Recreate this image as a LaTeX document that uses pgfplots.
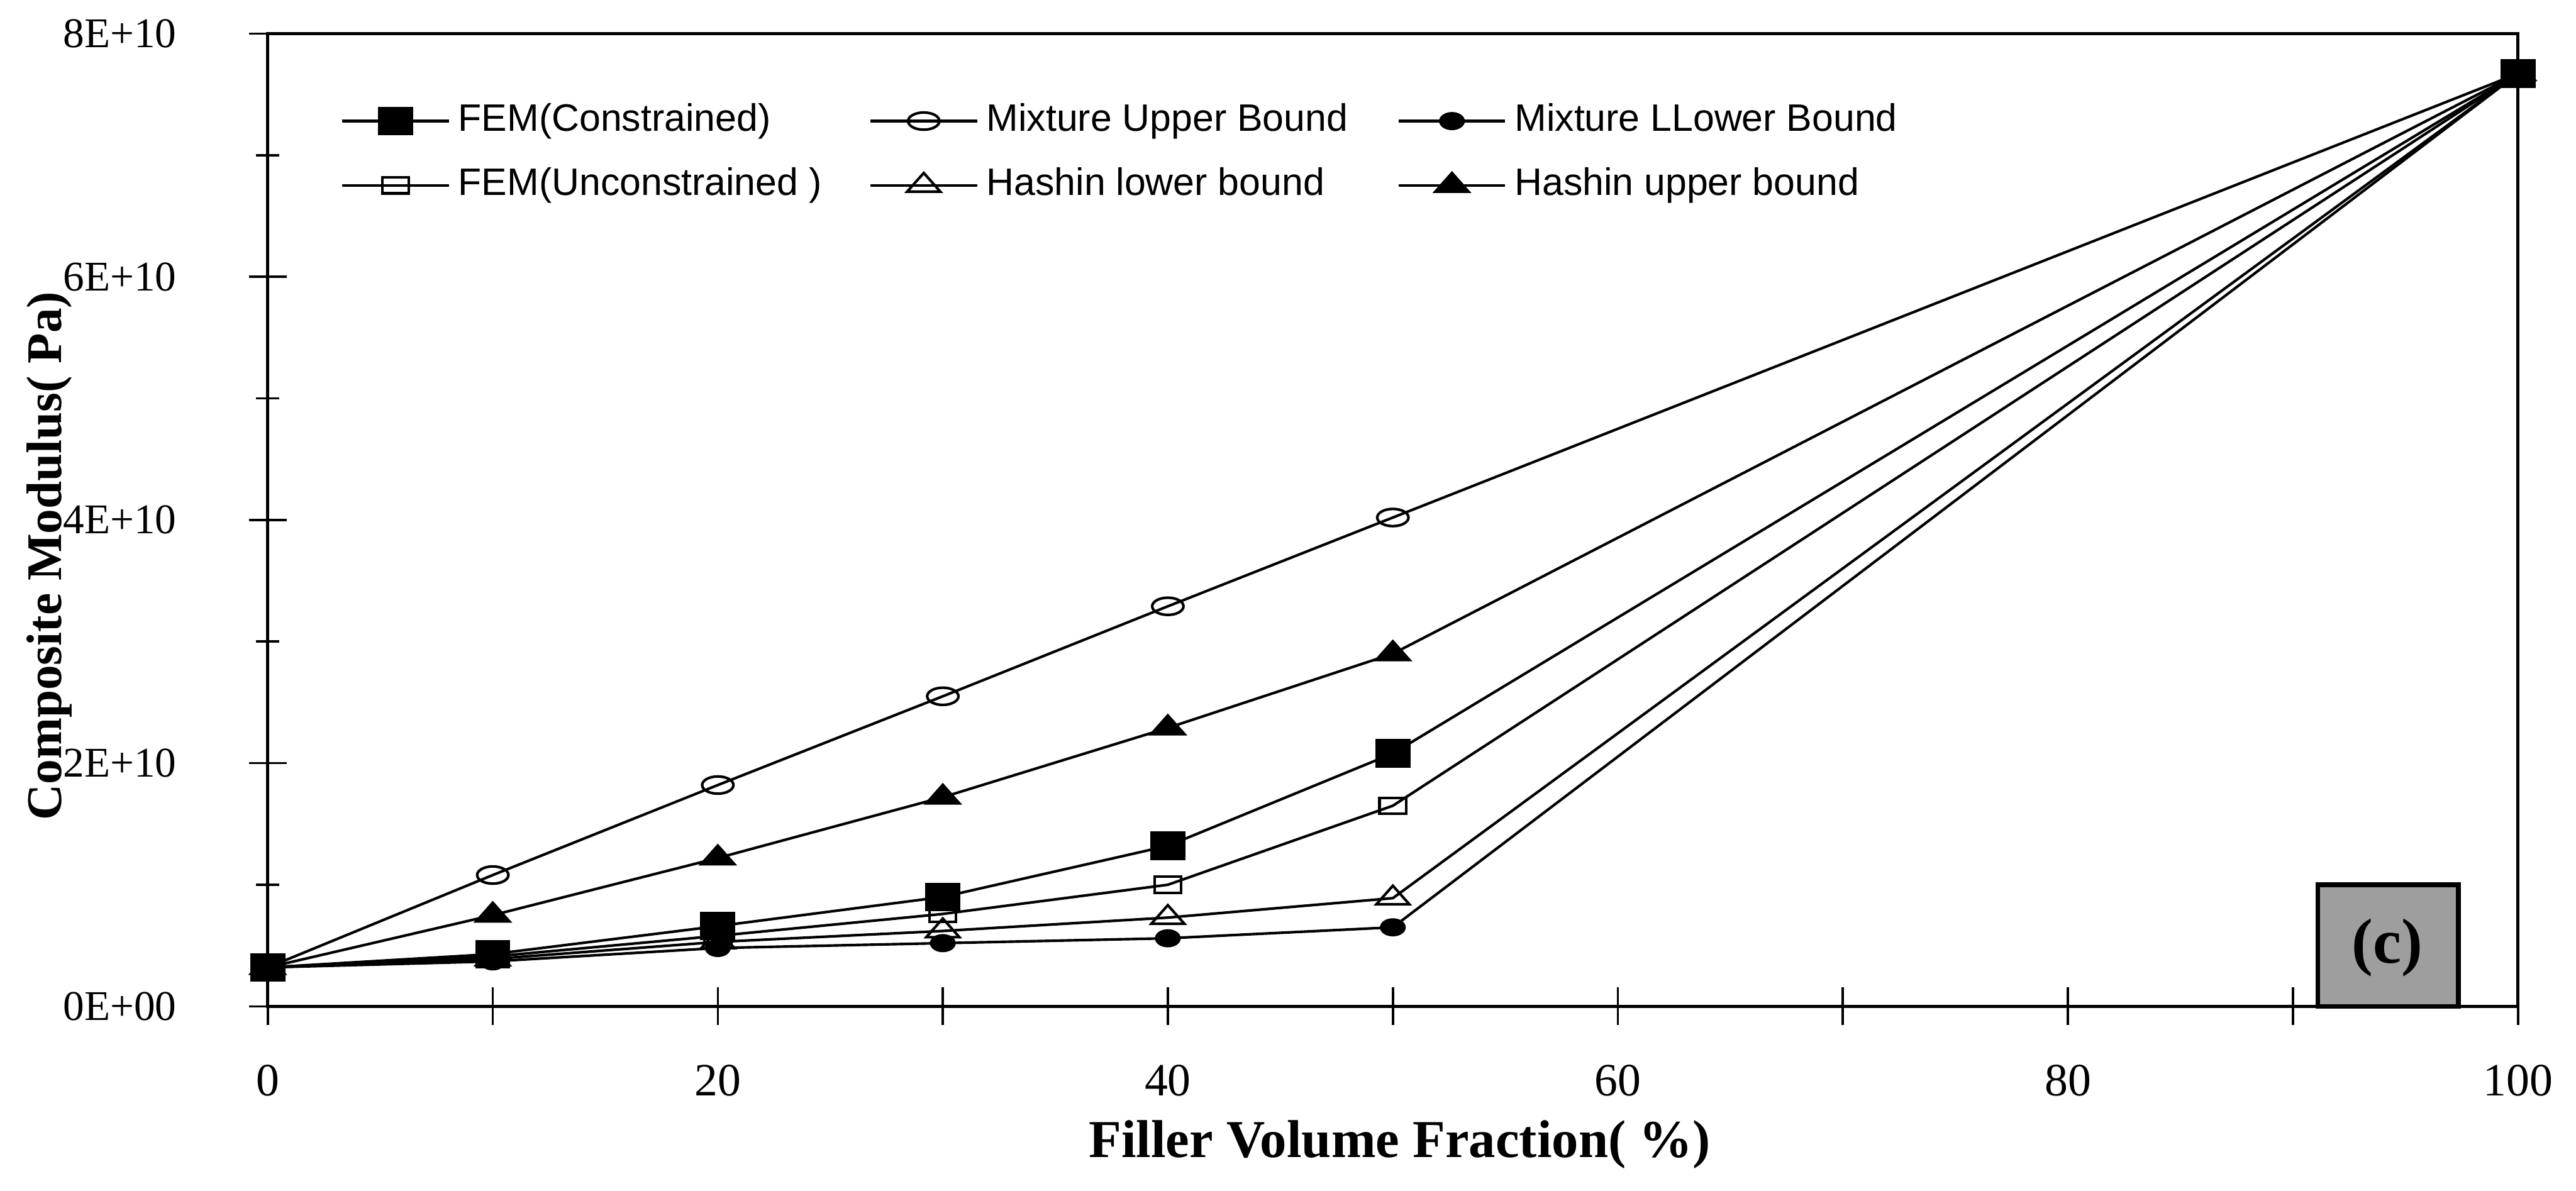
\documentclass[border=0pt]{standalone}
\usepackage{pgfplots}
\pgfplotsset{compat=1.18}
\usepackage{fontspec}
\setmainfont{Liberation Serif}
\newfontfamily\legendfont{Liberation Sans}
\begin{document}
\begin{tikzpicture}
\begin{axis}[
  scale only axis, width=388.3pt, height=167.9pt,
  xmin=0, xmax=100, ymin=0, ymax=8,
  clip=false,
  axis line style={line width=0.5pt},
  tick pos=left,
  tick align=center,
  tick style={black, line width=0.4pt},
  xtick={0,10,20,30,40,50,60,70,80,90,100},
  xticklabels={0,,20,,40,,60,,80,,100},
  ytick={0,2,4,6,8},
  yticklabels={0E+00,2E+10,4E+10,6E+10,8E+10},
  minor ytick={1,3,5,7},
  major tick length=6.5pt, minor tick length=4pt,
  xticklabel style={yshift=-3.3pt, font=\fontsize{8}{10}\selectfont},
  yticklabel style={xshift=-9pt, font=\fontsize{7.3}{9}\selectfont},
  xlabel={\bfseries Filler Volume Fraction( \%)},
  ylabel={\bfseries Composite Modulus( Pa)},
  every axis x label/.style={at={(axis description cs:0.503,-0.142)}, anchor=center, font=\fontsize{9.2}{11}\selectfont},
  every axis y label/.style={at={(axis description cs:-0.097,0.463)}, anchor=center, rotate=90, font=\fontsize{8.6}{10}\selectfont},
  legend columns=3,
  legend cell align=left,
  legend style={draw=none, fill=none, at={(0.032,0.938)}, anchor=north west, inner sep=0pt,
    font=\legendfont\fontsize{6.6}{7}\selectfont,
    /tikz/every even column/.append style={column sep=6.5pt},
    row sep=2.1pt, nodes={inner sep=1.4pt, text height=4.8pt, text depth=1.4pt}},
  legend image code/.code={\draw[mark repeat=2,mark phase=2,#1] plot coordinates {(0pt,0pt)(9.2pt,0pt)(18.4pt,0pt)};},
  every axis plot/.append style={black, line width=0.45pt},
]
\draw[fill=black!38, line width=0.8pt] (axis cs:91.1,0) rectangle (axis cs:97.35,1.0);
\node[font=\bfseries\fontsize{11}{12}\selectfont] at (axis cs:94.2,0.48) {(c)};

% FEM(Constrained)
\addplot[mark=square*, mark size=2.8pt, mark options={fill=black, yscale=0.8}]
  coordinates {(0,0.32)(10,0.43)(20,0.66)(30,0.90)(40,1.32)(50,2.08)(100,7.67)};
\addlegendentry{\makebox[63pt][l]{FEM(Constrained)}}
% Mixture Upper Bound
\addplot[mark=o, mark size=2.7pt, mark options={fill=white, yscale=0.55}]
  coordinates {(0,0.32)(10,1.08)(20,1.82)(30,2.55)(40,3.29)(50,4.02)(100,7.67)};
\addlegendentry{\makebox[63pt][l]{Mixture Upper Bound}}
% Mixture LLower Bound
\addplot[mark=*, mark size=2pt, mark options={fill=black, yscale=0.67}]
  coordinates {(0,0.32)(10,0.37)(20,0.48)(30,0.52)(40,0.56)(50,0.65)(100,7.67)};
\addlegendentry{Mixture LLower Bound}
% FEM(Unconstrained)
\addplot[mark=square, mark size=2.3pt, mark options={fill=white, yscale=0.6}]
  coordinates {(0,0.32)(10,0.41)(20,0.58)(30,0.76)(40,1.00)(50,1.65)(100,7.67)};
\addlegendentry{\makebox[63pt][l]{FEM(Unconstrained )}}
% Hashin lower bound
\addplot[mark=triangle, mark size=3.3pt, mark options={fill=white, yscale=0.65}]
  coordinates {(0,0.32)(10,0.39)(20,0.53)(30,0.62)(40,0.73)(50,0.89)(100,7.67)};
\addlegendentry{\makebox[63pt][l]{Hashin lower bound}}
% Hashin upper bound
\addplot[mark=triangle*, mark size=3.3pt, mark options={fill=black, yscale=0.65}]
  coordinates {(0,0.32)(10,0.75)(20,1.22)(30,1.72)(40,2.29)(50,2.90)(100,7.67)};
\addlegendentry{Hashin upper bound}

\path (rel axis cs:-0.119,-0.1894) rectangle (rel axis cs:1.0258,1.0286);
\end{axis}
\end{tikzpicture}
\end{document}
